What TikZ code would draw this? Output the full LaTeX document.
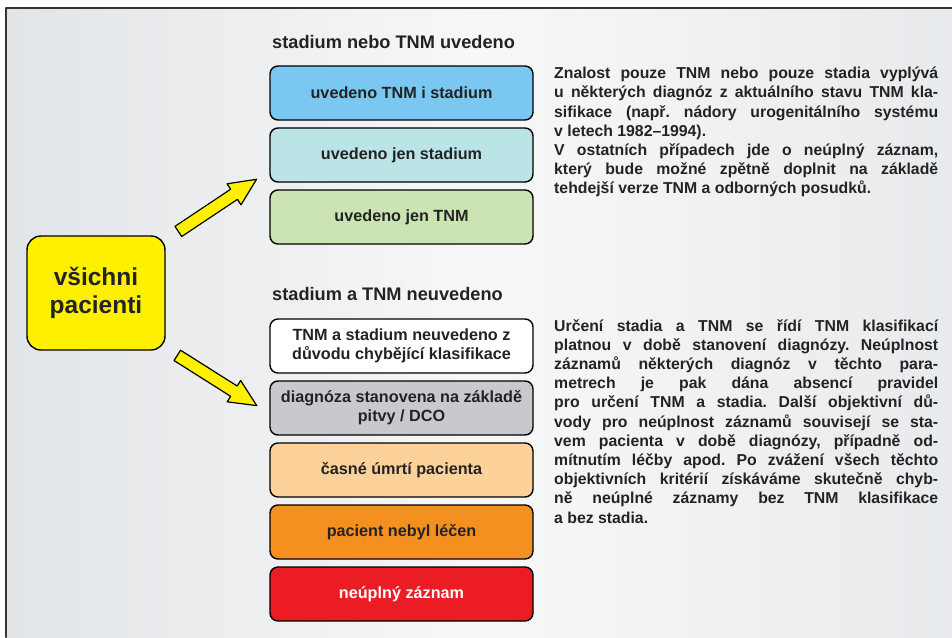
\documentclass[tikz,border=0pt]{standalone}
\usepackage{fontspec}
\setmainfont{Liberation Sans}
\usetikzlibrary{positioning,shapes.arrows}
\definecolor{txtgray}{RGB}{35,35,35}
\definecolor{bgside}{RGB}{226,229,232}
\definecolor{allyellow}{RGB}{255,240,0}
\definecolor{bothblue}{RGB}{122,200,242}
\definecolor{stagecyan}{RGB}{186,228,230}
\definecolor{tnmgreen}{RGB}{204,228,180}
\definecolor{autopsygray}{RGB}{200,201,204}
\definecolor{deathpeach}{RGB}{253,210,154}
\definecolor{untreatorange}{RGB}{243,144,32}
\definecolor{incompred}{RGB}{236,28,36}

\begin{document}
\frenchspacing
\begin{tikzpicture}[line cap=round,line join=round,x=1pt,y=-1pt,
    node distance=8pt,
    stagebox/.style={draw=black,line width=1.4pt,rounded corners=8pt,outer sep=0pt,
        minimum width=263pt,minimum height=54pt,align=center,inner sep=2pt,
        font=\bfseries\fontsize{16.2}{19}\selectfont,text=txtgray},
    grouptitle/.style={anchor=west,inner sep=0pt,
        font=\bfseries\fontsize{18.2}{21}\selectfont,text=txtgray},
    note/.style={anchor=north west,inner sep=0pt,text width=384pt,align=justify,
        font=\bfseries\fontsize{15.8}{19.2}\selectfont,text=txtgray},
    bigarrow/.style={single arrow,draw=black,line width=1.2pt,fill=allyellow,
        single arrow head extend=6.5pt,single arrow tip angle=50,
        minimum height=94pt,inner sep=5.5pt}]

    % background and frame
    \useasboundingbox (0,0) rectangle (952,637);
    \shade[left color=bgside,right color=bgside!80,middle color=white!97!black] (6,8) rectangle (952,637);
    \draw[line width=2pt,color=black!80] (952,8) -- (6,8) -- (6,637);

    % all patients
    \node[draw=black,line width=1.4pt,fill=allyellow,rounded corners=14pt,
        minimum width=138pt,minimum height=114pt,align=center,
        font=\bfseries\fontsize{24.5}{28}\selectfont,text=txtgray] (all) at (96,293) {všichni\\pacienti};

    \node[bigarrow,rotate=33.7] (arrowup) at (212,209) {};
    \node[bigarrow,rotate=-32.3] (arrowdown) at (211.5,377) {};

    % stage or TNM given
    \node[grouptitle] (uptitle) at (272,42) {stadium nebo TNM uvedeno};
    \node[stagebox,fill=bothblue] (both) at (401.5,93) {uvedeno TNM i stadium};
    \node[stagebox,fill=stagecyan,below=of both] (onlystage) {uvedeno jen stadium};
    \node[stagebox,fill=tnmgreen,below=of onlystage] (onlytnm) {uvedeno jen TNM};

    % stage and TNM not given
    \node[grouptitle] (downtitle) at (272,294) {stadium a TNM neuvedeno};
    \node[stagebox,fill=white] (noclass) at (401.5,346) {TNM a stadium neuvedeno z\\důvodu chybějící klasifikace};
    \node[stagebox,fill=autopsygray,below=of noclass] (autopsy) {diagnóza stanovena na základě\\pitvy / DCO};
    \node[stagebox,fill=deathpeach,below=of autopsy] (death) {časné úmrtí pacienta};
    \node[stagebox,fill=untreatorange,below=of death] (untreated) {pacient nebyl léčen};
    \node[stagebox,fill=incompred,text=white,below=of untreated] (incomplete) {neúplný záznam};

    \node[note] (upnote) at (554,67) {Znalost pouze TNM nebo pouze stadia vyplývá\linebreak
        u některých diagnóz z aktuálního stavu TNM kla-\linebreak
        sifikace (např. nádory urogenitálního systému\linebreak
        v letech 1982–1994).\\
        V ostatních případech jde o neúplný záznam,\linebreak
        který bude možné zpětně doplnit na základě\linebreak
        tehdejší verze TNM a odborných posudků.};

    \node[note] (downnote) at (554,319) {Určení stadia a TNM se řídí TNM klasifikací\linebreak
        platnou v době stanovení diagnózy. Neúplnost\linebreak
        záznamů některých diagnóz v těchto para-\linebreak
        metrech je pak dána absencí pravidel\linebreak
        pro určení TNM a stadia. Další objektivní dů-\linebreak
        vody pro neúplnost záznamů souvisejí se sta-\linebreak
        vem pacienta v době diagnózy, případně od-\linebreak
        mítnutím léčby apod. Po zvážení všech těchto\linebreak
        objektivních kritérií získáváme skutečně chyb-\linebreak
        ně neúplné záznamy bez TNM klasifikace\linebreak
        a bez stadia.};
\end{tikzpicture}
\end{document}
